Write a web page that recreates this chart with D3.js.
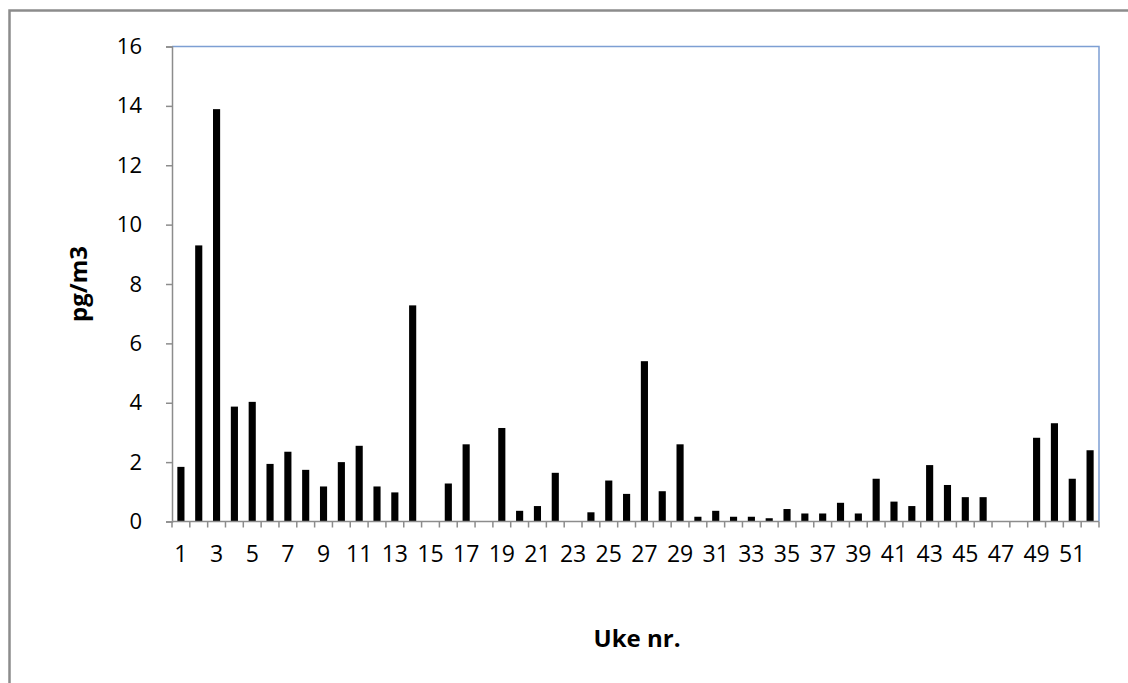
<!DOCTYPE html>
<html>
<head>
<meta charset="utf-8">
<script src="https://cdn.jsdelivr.net/npm/d3@7"></script>
<style>
  html, body { margin: 0; padding: 0; background: #fff; }
  svg { display: block; }
  text { font-family: "Open Sans", "Noto Sans", sans-serif; fill: #000; }
</style>
</head>
<body>
<svg id="chart" width="1128" height="683"></svg>
<script>
// Data
const weeks = d3.range(1, 53);
const values = [
  1.84, 9.30, 13.89, 3.87, 4.03, 1.94, 2.35, 1.74, 1.18, 2.00,
  2.55, 1.18, 0.98, 7.28, 0, 1.28, 2.60, 0, 3.15, 0.36,
  0.52, 1.64, 0, 0.31, 1.38, 0.93, 5.40, 1.02, 2.60, 0.16,
  0.36, 0.16, 0.16, 0.11, 0.42, 0.27, 0.27, 0.63, 0.27, 1.44,
  0.67, 0.52, 1.90, 1.23, 0.82, 0.82, 0, 0, 2.82, 3.31,
  1.44, 2.40
];
const yTicks = [0, 2, 4, 6, 8, 10, 12, 14, 16];
const xTickLabels = weeks.filter(w => w % 2 === 1);
const yTitle = "pg/m3";
const xTitle = "Uke nr.";

const svg = d3.select("#chart");
const L = 172, R = 1099, T = 46.5, B = 521.5;

// outer chart border (extends beyond the visible frame on right/bottom)
svg.append("rect")
  .attr("x", 9.5).attr("y", 10.5)
  .attr("width", 1200).attr("height", 800)
  .attr("fill", "none").attr("stroke", "#8c8c8c").attr("stroke-width", 2.5);

const xb = d3.scaleBand().domain(weeks).range([L, R]);
const y = d3.scaleLinear().domain([0, 16]).range([B, T]);

// plot area top/right border
svg.append("path")
  .attr("d", `M${L},${T}H${R}V${B}`)
  .attr("fill", "none").attr("stroke", "#7d9fd3").attr("stroke-width", 1.5);

// bars
svg.append("g").selectAll("rect")
  .data(weeks.map((w, i) => ({ w, v: values[i] })))
  .join("rect")
  .attr("x", d => xb(d.w) + xb.bandwidth() * 0.3)
  .attr("width", xb.bandwidth() * 0.4)
  .attr("y", d => y(d.v))
  .attr("height", d => B - y(d.v))
  .attr("fill", "#000");

// y axis
const yAxis = svg.append("g").attr("transform", `translate(${L},0)`)
  .call(d3.axisLeft(y).tickValues(yTicks).tickSize(6).tickPadding(24));
yAxis.select(".domain").attr("stroke", "#8c8c8c").attr("stroke-width", 1.5);
yAxis.selectAll(".tick line").attr("stroke", "#8c8c8c").attr("stroke-width", 1.5);
yAxis.selectAll(".tick text").attr("font-size", 22).attr("fill", "#222")
  .attr("font-family", "Open Sans");

// x axis: ticks at category boundaries
const xAxisG = svg.append("g").attr("transform", `translate(0,${B})`);
xAxisG.append("line").attr("x1", L).attr("x2", R).attr("stroke", "#8c8c8c").attr("stroke-width", 1.5);
const boundaries = weeks.map(w => xb(w)).concat([R]);
xAxisG.selectAll("line.tk").data(boundaries).join("line").attr("class", "tk")
  .attr("x1", d => d).attr("x2", d => d).attr("y1", 0).attr("y2", 6)
  .attr("stroke", "#8c8c8c").attr("stroke-width", 1.5);
xAxisG.selectAll("text").data(xTickLabels).join("text")
  .attr("x", d => xb(d) + xb.bandwidth() / 2)
  .attr("y", 40)
  .attr("text-anchor", "middle")
  .attr("font-size", 23).attr("fill", "#222")
  .text(d => d);

// titles
svg.append("text")
  .attr("transform", `translate(87,${(T + B) / 2}) rotate(-90)`)
  .attr("text-anchor", "middle")
  .attr("font-size", 24).attr("font-weight", "bold")
  .text(yTitle);
svg.append("text")
  .attr("x", 637).attr("y", 647)
  .attr("text-anchor", "middle")
  .attr("font-size", 24).attr("font-weight", "bold")
  .text(xTitle);
</script>
</body>
</html>
